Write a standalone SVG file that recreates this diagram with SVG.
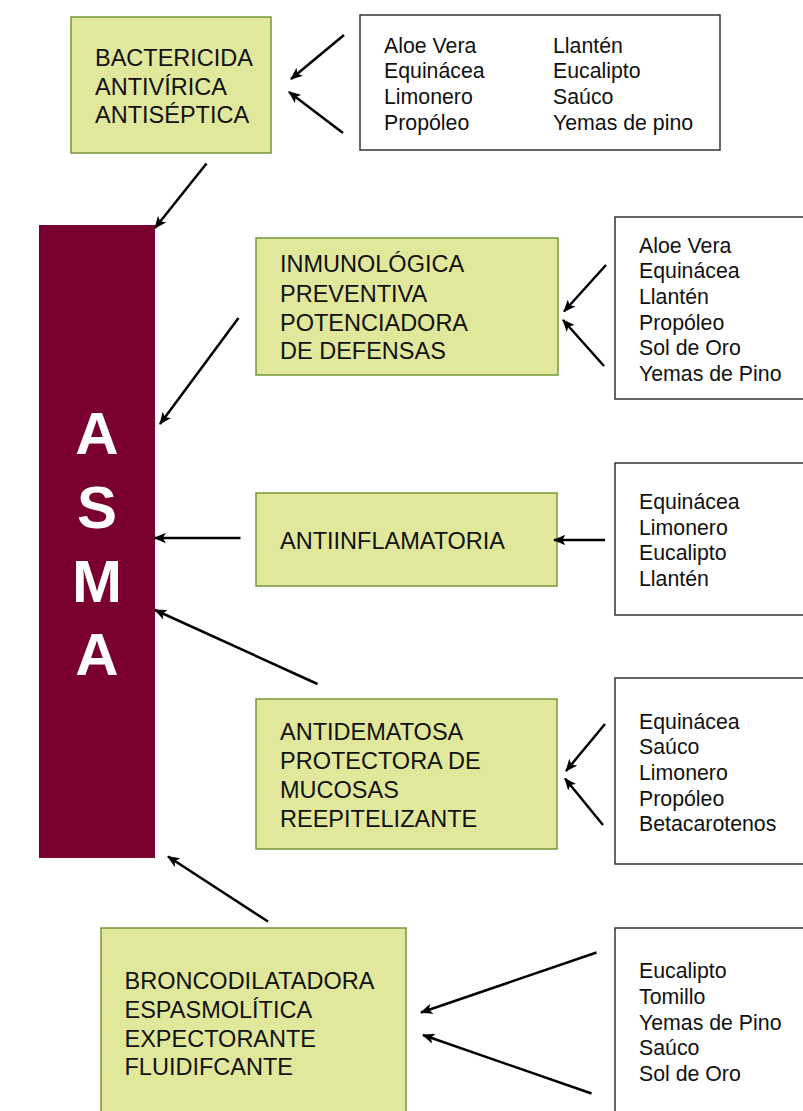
<svg xmlns="http://www.w3.org/2000/svg" width="803" height="1111" viewBox="0 0 803 1111">
<style>
.g{fill:#e2e89b;stroke:#77963a;stroke-width:1.5}
.l{fill:#fff;stroke:#333;stroke-width:1.5}
.t{font-family:"Liberation Sans",Arial,sans-serif;font-size:23.5px;fill:#111}
.s{font-family:"Liberation Sans",Arial,sans-serif;font-size:21.3px;fill:#111}
.big{font-family:"Liberation Sans",Arial,sans-serif;font-size:60px;font-weight:bold;fill:#fff;text-anchor:middle}
#connectors line{stroke:#000;stroke-width:2.5;marker-end:url(#ah)}
</style>
<defs>
<marker id="ah" viewBox="0 0 12 10" refX="11" refY="5" markerWidth="5" markerHeight="4.2" orient="auto" markerUnits="strokeWidth">
<path d="M0,0 L12,5 L0,10 L3,5 Z" fill="#000"/>
</marker>
</defs>
<rect width="803" height="1111" fill="#fff"/>
<g id="asma">
<rect x="39" y="225" width="116" height="633" fill="#7a0030"/>
<text class="big" x="97" y="454">A</text>
<text class="big" x="97" y="528">S</text>
<text class="big" x="97" y="602">M</text>
<text class="big" x="97" y="675">A</text>
</g>
<g id="bactericida">
<rect class="g" x="71" y="17" width="200" height="136"/>
<text class="t" x="95" y="65.5">BACTERICIDA</text>
<text class="t" x="95" y="94.5">ANTIVÍRICA</text>
<text class="t" x="95" y="123">ANTISÉPTICA</text>
</g>
<g id="lista1">
<rect class="l" x="360" y="15" width="360" height="135"/>
<text class="s" x="384" y="52.5">Aloe Vera</text>
<text class="s" x="384" y="78.2">Equinácea</text>
<text class="s" x="384" y="104">Limonero</text>
<text class="s" x="384" y="129.6">Propóleo</text>
<text class="s" x="553" y="52.5">Llantén</text>
<text class="s" x="553" y="78.2">Eucalipto</text>
<text class="s" x="553" y="104">Saúco</text>
<text class="s" x="553" y="129.6">Yemas de pino</text>
</g>
<g id="inmunologica">
<rect class="g" x="256" y="238" width="302" height="137"/>
<text class="t" x="280" y="272.3">INMUNOLÓGICA</text>
<text class="t" x="280" y="301.5">PREVENTIVA</text>
<text class="t" x="280" y="330.5">POTENCIADORA</text>
<text class="t" x="280" y="359.3">DE DEFENSAS</text>
</g>
<g id="lista2">
<rect class="l" x="615" y="217" width="200" height="182"/>
<text class="s" x="639" y="252.5">Aloe Vera</text>
<text class="s" x="639" y="278.2">Equinácea</text>
<text class="s" x="639" y="303.9">Llantén</text>
<text class="s" x="639" y="329.6">Propóleo</text>
<text class="s" x="639" y="355.3">Sol de Oro</text>
<text class="s" x="639" y="381">Yemas de Pino</text>
</g>
<g id="antiinflamatoria">
<rect class="g" x="256" y="493" width="301" height="93"/>
<text class="t" x="280" y="548.7">ANTIINFLAMATORIA</text>
</g>
<g id="lista3">
<rect class="l" x="615" y="463" width="200" height="152"/>
<text class="s" x="639" y="509">Equinácea</text>
<text class="s" x="639" y="534.5">Limonero</text>
<text class="s" x="639" y="560">Eucalipto</text>
<text class="s" x="639" y="585.5">Llantén</text>
</g>
<g id="antidematosa">
<rect class="g" x="256" y="699" width="301" height="150"/>
<text class="t" x="280" y="740">ANTIDEMATOSA</text>
<text class="t" x="280" y="769">PROTECTORA DE</text>
<text class="t" x="280" y="797.8">MUCOSAS</text>
<text class="t" x="280" y="826.7">REEPITELIZANTE</text>
</g>
<g id="lista4">
<rect class="l" x="615" y="678" width="200" height="186"/>
<text class="s" x="639" y="728.5">Equinácea</text>
<text class="s" x="639" y="754.2">Saúco</text>
<text class="s" x="639" y="779.9">Limonero</text>
<text class="s" x="639" y="805.6">Propóleo</text>
<text class="s" x="639" y="831.3">Betacarotenos</text>
</g>
<g id="broncodilatadora">
<rect class="g" x="101" y="928" width="305" height="200"/>
<text class="t" x="124.5" y="989.3">BRONCODILATADORA</text>
<text class="t" x="124.5" y="1018">ESPASMOLÍTICA</text>
<text class="t" x="124.5" y="1046.7">EXPECTORANTE</text>
<text class="t" x="124.5" y="1075.3">FLUIDIFCANTE</text>
</g>
<g id="lista5">
<rect class="l" x="615" y="928" width="200" height="200"/>
<text class="s" x="639" y="978.4">Eucalipto</text>
<text class="s" x="639" y="1004">Tomillo</text>
<text class="s" x="639" y="1029.6">Yemas de Pino</text>
<text class="s" x="639" y="1055.2">Saúco</text>
<text class="s" x="639" y="1080.8">Sol de Oro</text>
</g>
<g id="connectors">
<line x1="344" y1="35" x2="291" y2="79"/>
<line x1="343" y1="133" x2="289" y2="92"/>
<line x1="206.5" y1="163.5" x2="155" y2="228"/>
<line x1="606" y1="265" x2="564" y2="311.5"/>
<line x1="604" y1="366" x2="563" y2="320"/>
<line x1="238.5" y1="318" x2="160" y2="424"/>
<line x1="605" y1="540" x2="554" y2="540"/>
<line x1="240.5" y1="538" x2="154.5" y2="538"/>
<line x1="317.5" y1="684" x2="155" y2="610"/>
<line x1="605" y1="724" x2="566" y2="771"/>
<line x1="603" y1="825" x2="565" y2="778.5"/>
<line x1="268" y1="921.5" x2="168" y2="856.5"/>
<line x1="596.5" y1="952.5" x2="421" y2="1012.5"/>
<line x1="591.5" y1="1093.5" x2="423" y2="1035"/>
</g>
</svg>
